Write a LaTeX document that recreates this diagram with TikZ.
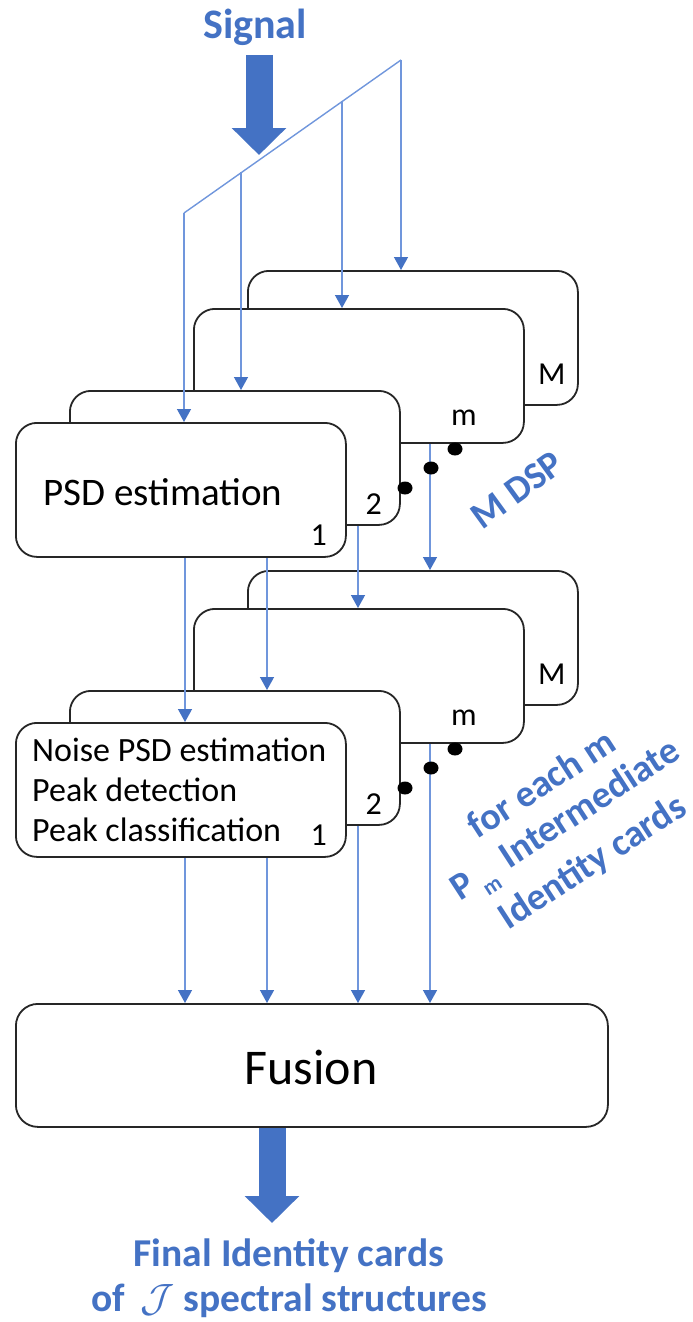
\RequirePackage{fix-cm}
\documentclass[tikz,border=0pt]{standalone}
\usepackage{fontspec}
\setmainfont{Carlito}
\usetikzlibrary{arrows.meta}
\definecolor{ofblue}{HTML}{4472C4}
\definecolor{lnblue}{RGB}{112,150,220}
\begin{document}
\begin{tikzpicture}[x=1pt,y=-1pt,
  card/.style={draw=black!85, line width=1.8pt, fill=white, rounded corners=21pt,
    minimum width=330pt, minimum height=134pt, anchor=north west, inner sep=0pt},
  fusebox/.style={draw=black!85, line width=1.8pt, fill=white, rounded corners=22pt,
    minimum width=592pt, minimum height=123pt, anchor=north west, inner sep=0pt},
  feedline/.style={draw=lnblue, line width=1.4pt},
  feed/.style={feedline, -{Triangle[width=14pt,length=13pt,color=ofblue]}},
  bigarrow/.style={draw=ofblue, line width=27pt, -{Triangle[width=53pt,length=27pt,color=ofblue]}},
  boxtxt/.style={font=\fontsize{34}{40}\selectfont, inner sep=0pt},
  numtxt/.style={font=\fontsize{32}{34}\selectfont, inner sep=0pt},
  bluetxt/.style={text=ofblue, font=\bfseries\fontsize{38}{46}\selectfont, inner sep=0pt},
  dot/.style={fill=black, draw=none}
]
\useasboundingbox (0,0) rectangle (693,1322);

% ---------- signal ----------
\node[bluetxt, font=\bfseries\fontsize{42}{46}\selectfont] (sig) at (255,27) {Signal};
\coordinate (sigtop) at (259,55);
\coordinate (sigtip) at (259,155);
\draw[bigarrow] (sigtop) -- (sigtip);

% ---------- top group (DSP) ----------
\node[card] (TM) at (247,270) {};
\node[card] (Tm) at (193,308) {};
\node[card] (T2) at (69,390) {};
\node[card] (T1) at (15,422) {};
\node[numtxt] (TMl) at ([shift={(-27,-32)}]TM.south east) {M};
\node[numtxt] (Tml) at ([shift={(-61,-26)}]Tm.south east) {m};
\node[numtxt] (T2l) at ([shift={(-27,-22)}]T2.south east) {2};
\node[numtxt] (T1l) at ([shift={(-28,-23)}]T1.south east) {1};
\node[boxtxt, font=\fontsize{39}{44}\selectfont, anchor=west] (T1t) at (43,492) {PSD estimation};

% ---------- bottom group ----------
\node[card] (BM) at (247,570) {};
\node[card] (Bm) at (193,608) {};
\node[card] (B2) at (69,690) {};
\node[card] (B1) at (15,722) {};
\node[numtxt] (BMl) at ([shift={(-27,-32)}]BM.south east) {M};
\node[numtxt] (Bml) at ([shift={(-61,-26)}]Bm.south east) {m};
\node[numtxt] (B2l) at ([shift={(-27,-22)}]B2.south east) {2};
\node[numtxt] (B1l) at ([shift={(-28,-23)}]B1.south east) {1};
\node[boxtxt, anchor=west, align=left] (B1t) at (32,790)
  {Noise PSD estimation\\Peak detection\\Peak classification};

% ---------- fusion ----------
\node[fusebox] (F) at (15,1003) {};
\node[font=\fontsize{50}{56}\selectfont, inner sep=0pt] (Ft) at (311,1067) {Fusion};
\coordinate (outtip) at (272,1223);
\draw[bigarrow] (F.south -| outtip) -- (outtip);
\node[bluetxt, align=center, font=\bfseries\fontsize{39.5}{45}\selectfont] (fin) at (289,1278)
  {Final Identity cards\\of \,$\mathcal{J}$ spectral structures};

% ---------- feeding lines ----------
\coordinate (d0) at (184,213);
\coordinate (d1) at (241,172);
\coordinate (d2) at (342,101);
\coordinate (d3) at (401,60);
\draw[feedline] (d0) -- (d3);
\draw[feed] (d0) -- (d0 |- T1.north);
\draw[feed] (d1) -- (d1 |- T2.north);
\draw[feed] (d2) -- (d2 |- Tm.north);
\draw[feed] (d3) -- (d3 |- TM.north);

\coordinate (x1) at (185,0);
\coordinate (x2) at (267,0);
\coordinate (x3) at (358,0);
\coordinate (x4) at (430,0);
\draw[feed] (x1 |- T1.south) -- (x1 |- B1.north);
\draw[feed] (x2 |- T1.south) -- (x2 |- B2.north);
\draw[feed] (x3 |- T2.south) -- (x3 |- Bm.north);
\draw[feed] (x4 |- Tm.south) -- (x4 |- BM.north);

\draw[feed] (x1 |- B1.south) -- (x1 |- F.north);
\draw[feed] (x2 |- B1.south) -- (x2 |- F.north);
\draw[feed] (x3 |- B2.south) -- (x3 |- F.north);
\draw[feed] (x4 |- Bm.south) -- (x4 |- F.north);

% ---------- ellipsis dots ----------
\foreach \dy in {0,300}{
  \fill[dot] (455,449+\dy) ellipse [x radius=7.5, y radius=6.5];
  \fill[dot] (431,468+\dy) ellipse [x radius=7.5, y radius=6.5];
  \fill[dot] (405,488+\dy) ellipse [x radius=7.5, y radius=6.5];
}

% ---------- rotated labels ----------
\node[bluetxt, rotate=36] (mdsp) at (517,490) {M DSP};
\node[bluetxt, rotate=33] (pm1) at (541,783) {for each m};
\node[bluetxt, rotate=33] (pm2) at (567,823)
  {P\,\raisebox{-0.3em}{\fontsize{22}{24}\selectfont m}\, Intermediate};
\node[bluetxt, rotate=33] (pm3) at (593,863) {Identity cards};
\end{tikzpicture}
\end{document}
